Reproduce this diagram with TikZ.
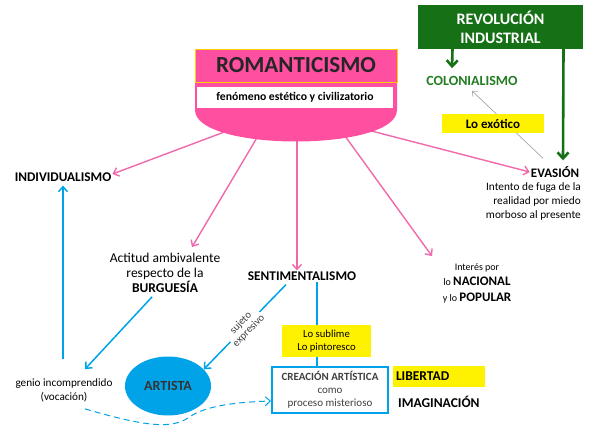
\documentclass[tikz,border=0pt]{standalone}
\usepackage{fontspec}
\setmainfont{Carlito}
\usepackage{tikz}
\usetikzlibrary{shapes.geometric, arrows.meta, positioning, backgrounds}
\usepackage{xcolor}
\definecolor{rosa}{RGB}{255,79,160}
\definecolor{rosaline}{RGB}{240,105,170}
\definecolor{verde}{RGB}{22,112,22}
\definecolor{verdetxt}{RGB}{35,125,35}
\definecolor{celeste}{RGB}{0,162,232}
\definecolor{amar}{RGB}{255,242,0}

\begin{document}
\begin{tikzpicture}[
    x=1pt, y=-1pt,
    lbl/.style={align=center, inner sep=1pt, font=\fontsize{13.3}{15}\selectfont\bfseries},
    txt/.style={align=center, inner sep=1pt, font=\fontsize{11.3}{14}\selectfont},
    amarbox/.style={fill=amar, inner sep=0pt, align=center},
    rarr/.style={-{Straight Barb[length=5pt,width=9pt]}, line width=1.4pt, rosaline},
    barr/.style={-{Straight Barb[length=5pt,width=9pt]}, line width=1.5pt, celeste},
    garr/.style={-{Straight Barb[length=6pt,width=11pt]}, line width=2.6pt, verde},
  ]
    \useasboundingbox (0,0) rectangle (594,434);

    % central block
    \fill[rosa] (195,49) -- (397,49) -- (397,110) .. controls (397,152) and (195,152) .. (195,110) -- cycle;
    \node[draw=amar!70!orange, line width=0.6pt, minimum width=202pt, minimum height=33pt, inner sep=0pt,
          font=\fontsize{23}{26}\selectfont\bfseries, text=black!85] (rom) at (296,65.5) {ROMANTICISMO};
    \node[fill=white, minimum width=196pt, minimum height=21pt, inner sep=0pt,
          font=\fontsize{11.7}{13}\selectfont\bfseries] (fen) at (295,97.5) {fenómeno estético y civilizatorio};
    \coordinate (b1) at (235,128);
    \coordinate (b2) at (258,136);
    \coordinate (b3) at (297,138);
    \coordinate (b4) at (345,136);
    \coordinate (b5) at (360,128);

    % first level
    \node[lbl] (indiv) at (63,177) {INDIVIDUALISMO};
    \node[txt, font=\fontsize{13.5}{15}\selectfont] (actitud) at (165,273) {Actitud ambivalente\\respecto de la\\\textbf{BURGUESÍA}};
    \node[lbl] (senti) at (302,276) {SENTIMENTALISMO};
    \node[txt, font=\fontsize{10}{15.5}\selectfont] (interes) at (477,283) {Interés por\\lo \textbf{\fontsize{13}{15}\selectfont NACIONAL}\\y lo \textbf{\fontsize{13}{15}\selectfont POPULAR}};
    \node[lbl, font=\fontsize{13}{15}\selectfont\bfseries] (evasion) at (555,172) {EVASIÓN};
    \node[txt, align=right, anchor=east] (fuga) at (582,201) {Intento de fuga de la\\realidad por miedo\\morboso al presente};

    % industrial revolution
    \node[fill=verde, text=white, minimum width=165pt, minimum height=44pt, inner sep=0pt, align=center,
          font=\fontsize{16}{19}\selectfont\bfseries] (rev) at (500.5,27) {REVOLUCIÓN\\INDUSTRIAL};
    \node[lbl, font=\fontsize{14}{16}\selectfont\bfseries, text=verdetxt] (colon) at (472,81) {COLONIALISMO};
    \draw[-{Straight Barb[length=4pt,width=7pt]}, gray!70, line width=0.7pt] ([xshift=-12pt,yshift=7pt]evasion.north) -- ([yshift=-4pt]colon.south);
    \node[amarbox, minimum width=102pt, minimum height=19pt, font=\fontsize{13}{15}\selectfont\bfseries] (exotico) at (493,123.5) {Lo exótico};
    \draw[garr] ([xshift=-48pt]rev.south) -- ([xshift=-20pt,yshift=7pt]colon.north);
    \draw[garr] ([xshift=63pt]rev.south) -- ([xshift=8pt,yshift=5pt]evasion.north);

    % bottom part
    \node[ellipse, fill=celeste, minimum width=86pt, minimum height=59pt, inner sep=0pt,
          font=\fontsize{14}{16}\selectfont\bfseries, text=black!80] (artista) at (168,386) {ARTISTA};
    \node[txt, font=\fontsize{11.2}{14}\selectfont] (genio) at (64,390) {genio incomprendido\\(vocación)};
    \node[draw=celeste, line width=2pt, fill=white, minimum width=116pt, minimum height=46pt, inner sep=0pt,
          align=center, text=black!75, font=\fontsize{11}{13.2}\selectfont] (crea) at (330,390) {\textbf{CREACIÓN ARTÍSTICA}\\como\\proceso misterioso};
    \draw[celeste, line width=1.5pt] ([xshift=15pt]senti.south) -- ([xshift=15pt]senti.south |- crea.north);
    \node[amarbox, minimum width=89pt, minimum height=32pt, font=\fontsize{10.7}{13.5}\selectfont] (sublime) at (326.5,341) {Lo sublime\\Lo pintoresco};
    \node[amarbox, minimum width=92pt, minimum height=21pt, text width=86pt, inner xsep=3pt, align=left,
          font=\fontsize{13.5}{15}\selectfont\bfseries] (libertad) at (439,376.5) {LIBERTAD};
    \node[lbl, font=\fontsize{13.5}{15}\selectfont\bfseries, anchor=west] (imagin) at (397,402) {IMAGINACIÓN};

    % pink connectors
    \begin{pgfonlayer}{background}
      \draw[rarr] (b1) -- ([yshift=3pt]indiv.east);
      \draw[rarr] (b2) -- ([xshift=27pt,yshift=5pt]actitud.north);
      \draw[rarr] (b3) -- (b3 |- senti.north);
      \draw[rarr] (b4) -- ([xshift=-45pt,yshift=6pt]interes.north);
      \draw[rarr] (b5) -- (evasion.west);
    \end{pgfonlayer}

    % blue connectors
    \draw[barr] ([xshift=-1pt,yshift=18pt]genio.north) -- ([yshift=-3pt]indiv.south);
    \draw[barr] ([xshift=-13pt,yshift=-3pt]actitud.south) -- ([xshift=21pt,yshift=8pt]genio.north);
    \draw[barr] ([xshift=-16pt,yshift=-3pt]senti.south) -- (artista.25)
      node[midway, sloped, fill=white, inner sep=0.5pt, align=center, text=black!75,
           font=\fontsize{10.5}{11}\selectfont] (sujeto) {sujeto\\expresivo};
    \draw[barr, line width=1pt, dash pattern=on 6pt off 4pt] ([xshift=21pt,yshift=-6pt]genio.south)
      .. controls (150,428) and (172,428) .. (188,418)
      .. controls (205,405) and (240,402) .. ([yshift=-11pt]crea.west);
  \end{tikzpicture}
\end{document}
